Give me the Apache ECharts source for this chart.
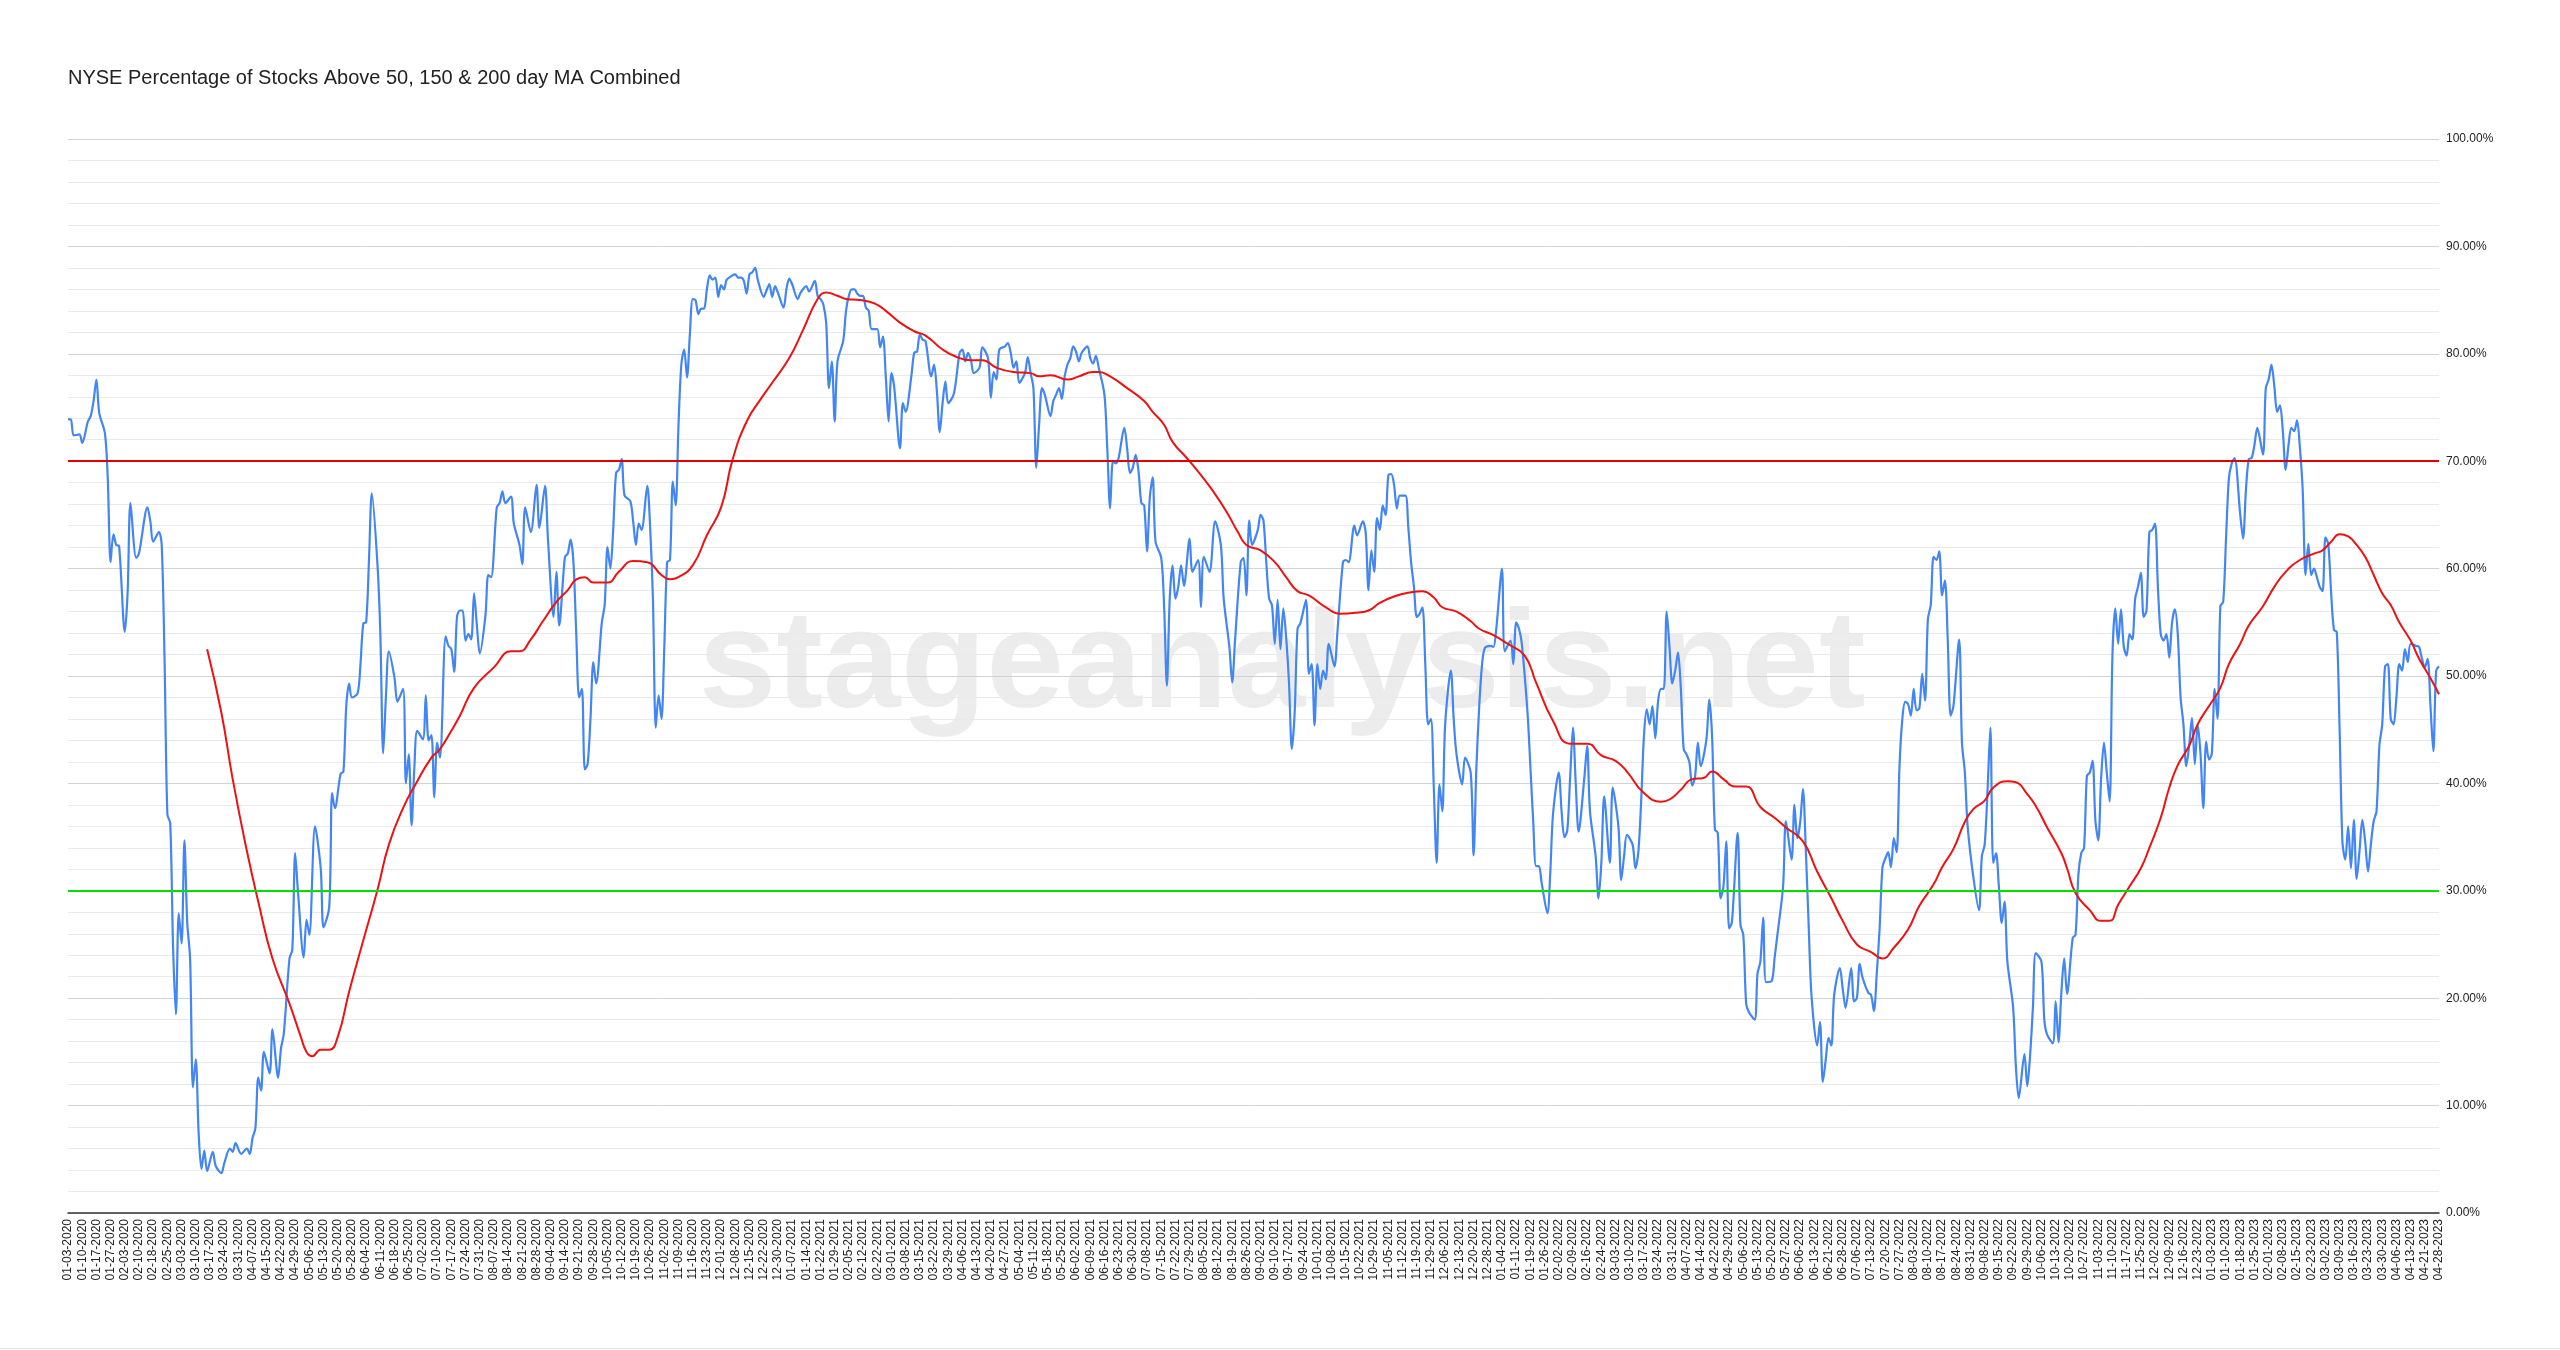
<!DOCTYPE html>
<html><head><meta charset="utf-8">
<script src="https://cdn.jsdelivr.net/npm/echarts/dist/echarts.min.js"></script>
<style>html,body{margin:0;padding:0;background:#fff}#c{width:2560px;height:1350px}</style>
</head><body><div id="c"></div>
<script>
const chartTitle = 'NYSE Percentage of Stocks Above 50, 150 & 200 day MA Combined';
const watermarkText = 'stageanalysis.net';

// one tick label every 5 trading days (index 0, 5, 10, ...)
const xTickLabels = [
'01-03-2020','01-10-2020','01-17-2020','01-27-2020','02-03-2020','02-10-2020','02-18-2020','02-25-2020','03-03-2020','03-10-2020',
'03-17-2020','03-24-2020','03-31-2020','04-07-2020','04-15-2020','04-22-2020','04-29-2020','05-06-2020','05-13-2020','05-20-2020',
'05-28-2020','06-04-2020','06-11-2020','06-18-2020','06-25-2020','07-02-2020','07-10-2020','07-17-2020','07-24-2020','07-31-2020',
'08-07-2020','08-14-2020','08-21-2020','08-28-2020','09-04-2020','09-14-2020','09-21-2020','09-28-2020','10-05-2020','10-12-2020',
'10-19-2020','10-26-2020','11-02-2020','11-09-2020','11-16-2020','11-23-2020','12-01-2020','12-08-2020','12-15-2020','12-22-2020',
'12-30-2020',
'01-07-2021','01-14-2021','01-22-2021','01-29-2021','02-05-2021','02-12-2021','02-22-2021','03-01-2021','03-08-2021','03-15-2021',
'03-22-2021','03-29-2021','04-06-2021','04-13-2021','04-20-2021','04-27-2021','05-04-2021','05-11-2021','05-18-2021','05-25-2021',
'06-02-2021','06-09-2021','06-16-2021','06-23-2021','06-30-2021','07-08-2021','07-15-2021','07-22-2021','07-29-2021','08-05-2021',
'08-12-2021','08-19-2021','08-26-2021','09-02-2021','09-10-2021','09-17-2021','09-24-2021','10-01-2021','10-08-2021','10-15-2021',
'10-22-2021','10-29-2021','11-05-2021','11-12-2021','11-19-2021','11-29-2021','12-06-2021','12-13-2021','12-20-2021','12-28-2021',
'01-04-2022','01-11-2022','01-19-2022','01-26-2022','02-02-2022','02-09-2022','02-16-2022','02-24-2022','03-03-2022','03-10-2022',
'03-17-2022','03-24-2022','03-31-2022','04-07-2022','04-14-2022','04-22-2022','04-29-2022','05-06-2022','05-13-2022','05-20-2022',
'05-27-2022','06-06-2022','06-13-2022','06-21-2022','06-28-2022','07-06-2022','07-13-2022','07-20-2022','07-27-2022','08-03-2022',
'08-10-2022','08-17-2022','08-24-2022','08-31-2022','09-08-2022','09-15-2022','09-22-2022','09-29-2022','10-06-2022','10-13-2022',
'10-20-2022','10-27-2022','11-03-2022','11-10-2022','11-17-2022','11-25-2022','12-02-2022','12-09-2022','12-16-2022','12-23-2022',
'01-03-2023','01-10-2023','01-18-2023','01-25-2023','02-01-2023','02-08-2023','02-15-2023','02-23-2023','03-02-2023','03-09-2023',
'03-16-2023','03-23-2023','03-30-2023','04-06-2023','04-13-2023','04-21-2023','04-28-2023'
];

// [trading-day index, % of NYSE stocks above 50/150/200 day MA combined]
const breadthPoints = [
[0,73.9],[1,73.9],[2,72.4],[4,72.5],[5,71.7],[7,73.7],[8,74.2],[9,75.6],[10,77.6],[11,74.5],[13,72.6],[14,68.4],[15,60.6],[16,63.2],[17,62.2],[18,62.1],[20,54.1],[21,57.8],[22,66.1],[24,61.0],
[25,61.4],[28,65.7],[29,64.4],[30,62.5],[32,63.4],[33,62.2],[34,51.6],[35,37.1],[36,36.3],[37,24.8],[38,18.5],[39,27.9],[40,25.1],[41,34.7],[42,27.0],[43,23.7],[44,11.7],[45,14.3],[46,7.5],[47,4.1],
[48,5.8],[49,3.9],[51,5.7],[52,4.4],[54,3.7],[55,4.6],[57,6.0],[58,5.7],[59,6.5],[61,5.5],[63,6.0],[64,5.5],[65,7.0],[66,7.9],[67,12.6],[68,11.4],[69,15.0],[71,13.0],[72,17.1],[74,12.6],
[75,15.3],[76,16.7],[78,23.7],[79,24.5],[80,33.5],[81,29.9],[83,23.8],[84,27.3],[85,25.9],[87,36.0],[89,32.1],[90,26.6],[92,28.5],[93,39.1],[94,37.7],[96,40.9],[97,41.1],[98,47.2],[99,49.3],[100,48.0],
[102,48.4],[103,51.1],[104,54.9],[105,55.0],[106,60.8],[107,67.0],[109,60.3],[110,53.9],[111,42.8],[112,48.3],[113,52.3],[115,49.8],[116,47.6],[118,48.8],[119,40.0],[120,42.7],[121,36.1],[122,41.6],[123,44.9],[125,44.1],
[126,48.2],[127,44.0],[128,44.5],[129,38.7],[130,43.8],[131,42.4],[133,53.7],[134,52.8],[135,52.5],[136,50.4],[137,55.5],[138,56.1],[139,56.1],[140,53.3],[141,53.9],[142,53.4],[143,57.7],[144,54.7],[145,52.1],[147,55.6],
[148,59.4],[149,59.2],[151,65.7],[152,66.1],[153,67.2],[154,66.1],[156,66.7],[157,64.2],[159,62.2],[160,60.4],[161,65.7],[163,63.4],[165,67.8],[166,63.8],[168,67.7],[169,62.9],[171,55.5],[172,59.7],[173,54.7],[175,61.1],
[176,61.4],[177,62.7],[178,60.6],[179,53.9],[180,48.0],[181,48.8],[182,41.3],[183,41.8],[184,46.0],[185,51.3],[186,49.3],[188,55.0],[189,56.6],[190,62.0],[191,60.0],[192,63.6],[193,68.9],[194,69.2],[195,70.2],[196,66.8],
[198,66.3],[199,64.5],[200,62.2],[201,64.2],[202,63.6],[204,67.7],[205,63.9],[206,57.2],[207,45.2],[208,48.2],[209,46.0],[210,52.7],[211,60.6],[212,60.8],[213,68.1],[214,65.9],[215,73.4],[216,79.0],[217,80.4],[218,77.8],
[219,81.8],[220,85.1],[221,85.0],[222,83.7],[223,84.2],[224,84.2],[225,86.0],[226,87.3],[227,86.9],[228,87.1],[229,85.3],[230,86.4],[231,86.0],[232,86.9],[234,87.3],[235,87.4],[236,87.1],[237,87.1],[238,86.8],[239,85.6],
[240,87.4],[241,87.6],[242,88.0],[243,86.8],[245,85.3],[246,85.9],[247,86.5],[248,85.3],[249,86.3],[250,85.7],[252,84.3],[253,86.0],[254,87.0],[255,86.5],[257,85.1],[258,85.7],[260,86.3],[261,85.8],[263,86.8],[264,85.4],
[265,85.1],[266,84.6],[267,82.9],[268,76.8],[269,79.3],[270,73.7],[271,79.3],[273,81.2],[274,84.0],[275,85.4],[276,86.0],[277,86.0],[278,85.6],[279,85.4],[280,85.4],[281,84.3],[282,84.0],[283,82.3],[285,82.3],[286,80.6],
[287,81.6],[288,77.9],[289,73.7],[290,78.2],[291,76.8],[293,71.2],[294,75.4],[295,74.6],[297,77.9],[298,80.1],[299,80.2],[300,81.8],[301,81.3],[302,81.2],[304,77.9],[305,79.0],[306,76.5],[307,72.7],[308,75.4],[309,77.4],
[310,75.4],[312,76.3],[314,80.1],[315,80.4],[316,79.3],[317,80.1],[318,79.4],[319,78.2],[321,78.7],[322,80.6],[324,79.6],[325,75.9],[326,78.3],[327,77.6],[328,80.4],[330,80.7],[331,81.0],[332,80.1],[333,78.7],[334,79.3],
[335,77.3],[337,78.2],[338,79.7],[339,78.2],[340,76.8],[341,69.4],[342,73.4],[343,76.8],[344,76.2],[346,74.2],[347,75.6],[348,76.2],[349,76.8],[350,75.8],[351,77.9],[352,79.0],[353,79.6],[354,80.7],[355,80.2],[356,79.3],
[357,80.1],[359,80.7],[360,79.6],[361,79.1],[362,79.8],[363,78.7],[365,76.2],[366,71.2],[367,65.6],[368,70.0],[369,69.8],[370,70.3],[372,73.1],[373,71.2],[374,68.9],[375,69.4],[376,70.6],[377,69.1],[378,66.1],[379,65.9],
[380,61.6],[381,66.7],[382,68.5],[383,62.5],[385,61.0],[386,56.6],[387,49.1],[388,57.2],[389,60.3],[390,57.2],[391,58.3],[392,60.3],[393,58.4],[395,62.8],[396,59.7],[398,60.8],[399,56.4],[400,61.1],[402,59.7],[404,64.4],
[406,62.2],[407,57.2],[409,52.7],[410,49.4],[411,53.3],[413,60.6],[414,61.0],[415,57.5],[416,64.5],[417,62.2],[419,63.6],[420,65.0],[421,64.5],[422,60.6],[423,57.2],[424,56.6],[425,53.0],[426,57.1],[427,52.5],[428,56.3],
[429,53.6],[430,49.4],[431,43.2],[432,46.6],[433,54.4],[434,54.9],[436,57.1],[437,50.2],[438,51.1],[439,45.4],[440,51.1],[441,48.8],[442,50.5],[443,49.7],[444,53.0],[446,50.9],[447,53.9],[449,60.6],[450,60.8],[451,60.6],
[453,64.0],[454,63.1],[456,64.4],[457,63.4],[458,58.0],[459,61.7],[460,59.7],[461,64.7],[462,63.6],[463,65.9],[464,65.0],[465,68.7],[466,68.8],[467,67.8],[468,65.6],[469,66.8],[471,66.8],[472,63.9],[473,60.6],[474,58.3],
[475,55.5],[476,55.8],[477,56.4],[478,51.1],[479,45.5],[480,46.0],[481,39.6],[482,32.6],[483,39.9],[484,37.4],[485,45.5],[487,50.5],[488,46.0],[489,42.7],[491,39.9],[492,42.4],[494,41.0],[495,33.3],[496,41.5],[497,47.2],
[498,51.1],[499,52.6],[501,52.8],[502,52.7],[503,54.4],[505,60.0],[506,52.3],[508,53.3],[509,51.1],[510,55.0],[511,54.4],[512,53.0],[514,46.6],[515,41.6],[516,36.5],[517,32.3],[518,32.3],[519,30.7],[521,27.9],[522,31.6],
[523,37.2],[525,41.0],[526,37.4],[527,35.0],[528,35.6],[529,40.5],[530,45.2],[531,39.9],[532,35.5],[534,40.5],[535,43.5],[536,37.4],[538,33.2],[539,29.3],[540,32.6],[541,38.8],[543,32.6],[544,39.6],[546,36.0],[547,31.0],
[548,33.2],[549,35.2],[551,34.3],[552,32.1],[553,33.5],[554,38.2],[555,44.4],[556,46.9],[557,45.5],[558,47.2],[559,44.2],[560,47.7],[561,48.8],[562,48.8],[563,56.0],[564,52.7],[565,49.3],[566,50.5],[567,52.2],[568,48.8],
[569,43.2],[570,42.7],[571,42.0],[572,39.8],[573,40.6],[574,43.8],[575,41.6],[577,44.1],[578,47.8],[579,44.4],[580,35.7],[581,35.4],[582,29.3],[583,30.4],[584,34.6],[585,26.5],[586,27.1],[588,35.4],[589,26.8],[590,25.9],
[591,19.5],[592,18.7],[594,18.0],[595,22.3],[596,23.4],[597,27.5],[598,21.5],[600,21.6],[601,23.7],[602,25.9],[604,30.4],[605,36.5],[607,32.9],[608,38.0],[609,34.9],[610,36.3],[611,39.5],[612,33.9],[613,26.9],[614,20.3],
[616,15.6],[617,17.8],[618,12.2],[619,14.2],[620,16.3],[621,15.6],[622,20.3],[624,22.8],[625,20.9],[626,19.1],[628,22.8],[629,19.7],[630,20.0],[631,23.2],[632,21.9],[634,20.5],[635,20.3],[636,18.8],[637,22.3],[638,26.5],
[639,32.2],[640,33.0],[641,33.6],[642,32.2],[643,34.9],[644,33.6],[645,41.6],[646,46.0],[647,47.6],[648,47.4],[649,46.3],[650,48.8],[651,46.8],[652,47.0],[653,50.2],[654,47.7],[655,55.3],[656,56.6],[657,61.1],[658,60.8],
[659,61.6],[660,57.5],[661,58.9],[662,53.3],[663,46.3],[664,47.2],[666,53.4],[667,43.8],[668,41.1],[669,36.0],[671,31.3],[673,28.2],[674,33.2],[675,34.3],[676,39.3],[677,45.2],[678,32.6],[679,33.5],[680,30.4],[681,27.0],
[682,29.0],[683,23.4],[685,19.2],[686,13.6],[687,10.7],[689,14.8],[690,11.8],[691,14.7],[692,19.2],[693,24.2],[695,23.4],[696,18.0],[697,16.6],[699,15.8],[700,19.7],[701,15.9],[702,20.5],[703,23.7],[704,20.4],[706,25.6],
[707,25.9],[708,31.5],[709,33.5],[710,34.0],[711,40.7],[712,41.0],[713,42.1],[714,36.5],[715,34.7],[716,40.4],[717,43.8],[718,41.0],[719,38.3],[720,52.0],[721,56.3],[722,53.0],[723,56.2],[724,52.7],[725,51.9],[726,53.9],
[727,53.4],[728,57.2],[729,58.3],[730,59.6],[731,55.5],[732,56.1],[733,63.4],[734,63.6],[735,64.2],[736,58.3],[737,53.9],[738,53.3],[739,53.9],[740,51.7],[741,55.0],[742,56.2],[743,53.9],[744,48.0],[745,45.5],[746,41.6],
[747,43.5],[748,46.1],[749,41.8],[750,45.5],[751,42.8],[752,37.7],[753,43.9],[754,42.2],[755,42.8],[756,48.8],[757,46.0],[758,56.5],[759,56.9],[760,62.8],[761,68.4],[762,69.8],[763,70.3],[765,65.0],[766,62.8],[767,67.3],
[768,70.2],[769,70.3],[770,71.5],[771,73.1],[773,70.6],[774,76.8],[775,77.6],[776,79.0],[777,77.0],[778,74.6],[779,75.2],[780,72.8],[781,69.2],[782,71.5],[783,73.1],[784,72.8],[785,73.8],[786,71.3],[787,67.3],[788,59.4],
[789,62.3],[790,59.4],[791,60.0],[792,59.2],[793,58.3],[794,57.9],[795,62.9],[796,62.3],[797,57.8],[798,54.3],[799,54.1],[800,45.0],[801,34.5],[802,32.9],[803,36.0],[804,32.1],[805,36.6],[806,31.1],[807,33.7],[808,36.6],
[809,34.6],[810,31.8],[811,34.3],[812,36.5],[813,37.4],[814,43.5],[815,45.5],[816,50.9],[817,51.1],[818,46.0],[819,45.5],[820,48.0],[821,51.1],[822,50.5],[823,52.5],[824,51.3],[825,53.0],[827,52.8],[828,52.7],[829,51.6],
[830,50.8],[831,51.6],[832,47.2],[833,43.0],[834,50.5],[835,50.9]
];

// [trading-day index, moving average %]
const maPoints = [
[49,52.5],[54,46.6],[58,40.4],[63,33.7],[67,29.0],[72,23.7],[78,19.5],[82,16.4],[84,15.0],[86,14.6],[89,15.2],[92,15.2],[95,16.4],[99,20.6],[104,25.4],[109,30.1],[113,34.3],[118,37.7],[123,40.2],[128,42.4],
[131,43.2],[135,44.9],[138,46.3],[143,48.9],[150,50.8],[156,52.3],[159,52.3],[163,53.4],[167,55.0],[172,56.9],[176,58.0],[179,59.0],[182,59.2],[185,58.7],[190,58.7],[194,59.7],[199,60.7],[204,60.6],[209,59.4],[212,59.0],
[215,59.2],[220,60.3],[225,63.1],[230,65.7],[234,70.1],[239,73.7],[244,75.8],[248,77.3],[254,79.6],[259,82.3],[264,85.1],[267,85.7],[271,85.4],[274,85.1],[279,85.0],[284,84.7],[288,84.0],[293,82.9],[298,82.1],[302,81.7],
[308,80.4],[313,79.7],[318,79.4],[322,79.4],[327,78.7],[333,78.3],[339,78.2],[342,77.9],[346,78.0],[352,77.6],[356,77.9],[361,78.3],[363,78.3],[367,77.9],[373,76.8],[379,75.6],[382,74.6],[386,73.4],[389,71.8],[394,70.3],
[399,68.7],[403,67.3],[408,65.3],[412,63.4],[415,62.2],[420,61.7],[425,60.6],[429,59.2],[433,57.9],[437,57.5],[443,56.4],[448,55.8],[454,55.9],[458,56.1],[462,56.8],[467,57.4],[473,57.8],[477,57.9],[481,57.3],[484,56.4],
[489,56.0],[494,55.1],[497,54.4],[502,53.8],[507,53.0],[513,51.9],[517,49.4],[523,45.8],[529,43.7],[535,43.7],[540,42.6],[545,42.1],[549,41.1],[555,39.1],[561,38.3],[564,38.5],[568,39.4],[572,40.4],[576,40.5],[579,41.1],
[583,40.4],[587,39.7],[591,39.7],[596,37.8],[601,36.8],[605,35.9],[611,34.6],[616,31.8],[621,29.3],[625,27.2],[630,25.0],[635,24.3],[639,23.7],[643,24.7],[648,26.4],[652,28.6],[657,30.6],[660,32.2],[664,33.9],[668,36.4],
[671,37.6],[675,38.4],[678,39.6],[683,40.2],[686,40.1],[690,39.0],[693,37.9],[697,35.9],[702,33.5],[704,32.1],[707,29.8],[712,28.2],[716,27.2],[719,27.2],[722,28.7],[726,30.4],[730,32.1],[733,34.0],[737,36.8],[740,39.6],
[743,41.7],[747,43.5],[750,45.5],[754,47.2],[758,48.9],[761,51.1],[765,53.0],[768,54.7],[773,56.5],[777,58.3],[781,59.7],[786,60.8],[791,61.4],[794,61.7],[797,62.5],[800,63.2],[803,63.0],[806,62.2],[809,61.1],[812,59.4],
[815,57.7],[818,56.6],[821,55.0],[825,53.3],[828,51.6],[832,49.8],[835,48.3]
];

const upperLevel = 70;
const lowerLevel = 30;

const FONT = '"Liberation Sans", Arial, Helvetica, sans-serif';
const lastIndex = (xTickLabels.length - 1) * 5;

const chart = echarts.init(document.getElementById('c'), null, {renderer: 'canvas'});
chart.setOption({
  animation: false,
  backgroundColor: '#ffffff',
  title: {
    text: chartTitle, left: 68, top: 68, padding: 0,
    textStyle: {fontFamily: FONT, fontSize: 20, fontWeight: 'normal', color: '#222222'}
  },
  graphic: [
    {type: 'text', x: 1282, y: 668, z: 0, silent: true,
     style: {text: watermarkText, font: 'bold 140px ' + FONT, fill: 'rgba(0,0,0,0.075)', align: 'center', verticalAlign: 'middle'}},
    {type: 'rect', shape: {x: 0, y: 1348, width: 2560, height: 1}, style: {fill: '#e3e3e3'}, silent: true}
  ],
  grid: {left: 68, right: 121, top: 139, bottom: 137, containLabel: false, outerBoundsMode: 'none'},
  xAxis: {
    type: 'value', min: 0, max: lastIndex, interval: 5,
    axisLine: {show: true, onZero: false, lineStyle: {color: '#333333', width: 1.5}},
    axisTick: {show: false},
    splitLine: {show: false},
    axisLabel: {
      rotate: 90, margin: 6, fontSize: 12, color: '#222222', fontFamily: FONT,
      showMinLabel: true, showMaxLabel: true, hideOverlap: false,
      formatter: function (v) { return xTickLabels[Math.round(v / 5)] || ''; }
    }
  },
  yAxis: {
    type: 'value', position: 'right', min: 0, max: 100, interval: 10,
    axisLine: {show: false}, axisTick: {show: false},
    axisLabel: {margin: 7, fontSize: 12, color: '#222222', fontFamily: FONT,
      formatter: function (v) { return v.toFixed(2) + '%'; }},
    splitLine: {show: true, lineStyle: {color: '#d2d2d2', width: 1}},
    minorTick: {show: false, splitNumber: 5},
    minorSplitLine: {show: true, lineStyle: {color: '#e9e9e9', width: 1}}
  },
  series: [
    {
      name: 'Combined %', type: 'line', data: breadthPoints, showSymbol: false, smooth: 0.3,
      lineStyle: {color: '#4285f4', width: 2.2}, itemStyle: {color: '#4285f4'}, z: 2
    },
    {
      name: 'MA', type: 'line', data: maPoints, showSymbol: false, smooth: 0.5,
      lineStyle: {color: '#ee1111', width: 2}, itemStyle: {color: '#ee1111'}, z: 3
    },
    {
      name: 'levels', type: 'line', data: [], z: 4,
      markLine: {
        silent: true, symbol: ['none', 'none'], label: {show: false}, animation: false,
        data: [
          {yAxis: upperLevel, lineStyle: {color: '#e00000', width: 2, type: 'solid'}},
          {yAxis: lowerLevel, lineStyle: {color: '#00e000', width: 2, type: 'solid'}}
        ]
      }
    }
  ]
});
</script>
</body></html>
